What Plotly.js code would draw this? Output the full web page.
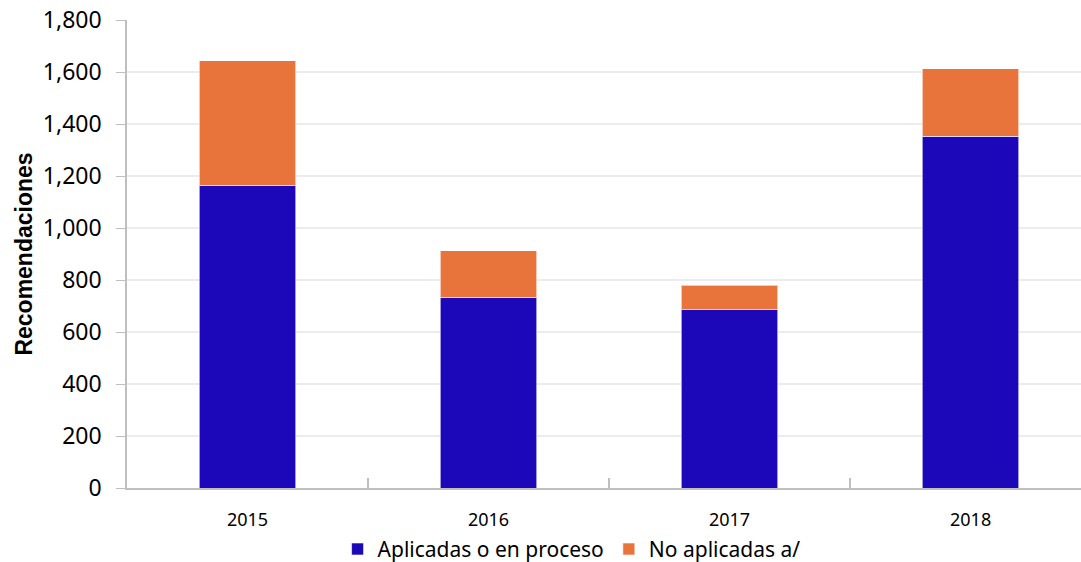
<!DOCTYPE html>
<html><head><meta charset="utf-8">
<script src="https://cdn.plot.ly/plotly-3.0.1.min.js"></script>
<style>html,body{margin:0;padding:0;background:#fff;}</style>
</head><body>
<div id="chart" style="width:1081px;height:562px;"></div>
<script>
const years = ['2015', '2016', '2017', '2018'];
const aplicadas = [1164, 733, 685, 1353];
const noAplicadas = [480, 180, 95, 259];
const yTickVals = [0, 200, 400, 600, 800, 1000, 1200, 1400, 1600, 1800];

const traces = [
  {type: 'bar', name: 'Aplicadas o en proceso', x: years, y: aplicadas,
   marker: {color: '#1c08b8', line: {color: 'rgba(255,255,255,0.6)', width: 1}}, width: 0.4},
  {type: 'bar', name: 'No aplicadas a/', x: years, y: noAplicadas,
   marker: {color: '#e8743c', line: {color: 'rgba(255,255,255,0.6)', width: 1}}, width: 0.4}
];
const layout = {
  width: 1081, height: 562, barmode: 'stack',
  margin: {l: 127, r: 0, t: 20, b: 74},
  paper_bgcolor: '#fff', plot_bgcolor: '#fff',
  font: {family: '"Noto Sans", sans-serif', color: '#000'},
  xaxis: {type: 'category', range: [-0.5, 3.458], showline: true, linecolor: '#bfbfbf', linewidth: 2,
    ticks: 'inside', tickson: 'boundaries', ticklen: 10, tickcolor: '#bfbfbf', tickwidth: 1.5,
    ticklabelstandoff: 14, automargin: false,
    tickfont: {size: 18, family: '"Noto Sans", sans-serif'}, showgrid: false},
  yaxis: {range: [0, 1800], tickvals: yTickVals, tickformat: ',d', showline: true, linecolor: '#bfbfbf', linewidth: 1.5,
    ticks: 'outside', ticklen: 9, tickcolor: '#bfbfbf', gridcolor: '#ececec', gridwidth: 2,
    ticklabelstandoff: 10, automargin: false,
    tickfont: {size: 23, family: '"Noto Sans", sans-serif'}, zeroline: false,
    title: {text: 'Recomendaciones', font: {size: 23, family: '"Liberation Sans", Arial, sans-serif', weight: 'bold'}, standoff: 4}},
  legend: {orientation: 'h', x: 0.466, xanchor: 'center', yref: 'container', y: 0.059, yanchor: 'top',
    bgcolor: 'rgba(0,0,0,0)',
    font: {size: 21, family: '"Noto Sans", sans-serif'}, traceorder: 'normal', itemwidth: 30},
  showlegend: true
};
Plotly.newPlot('chart', traces, layout, {displayModeBar: false});
</script>
</body></html>
